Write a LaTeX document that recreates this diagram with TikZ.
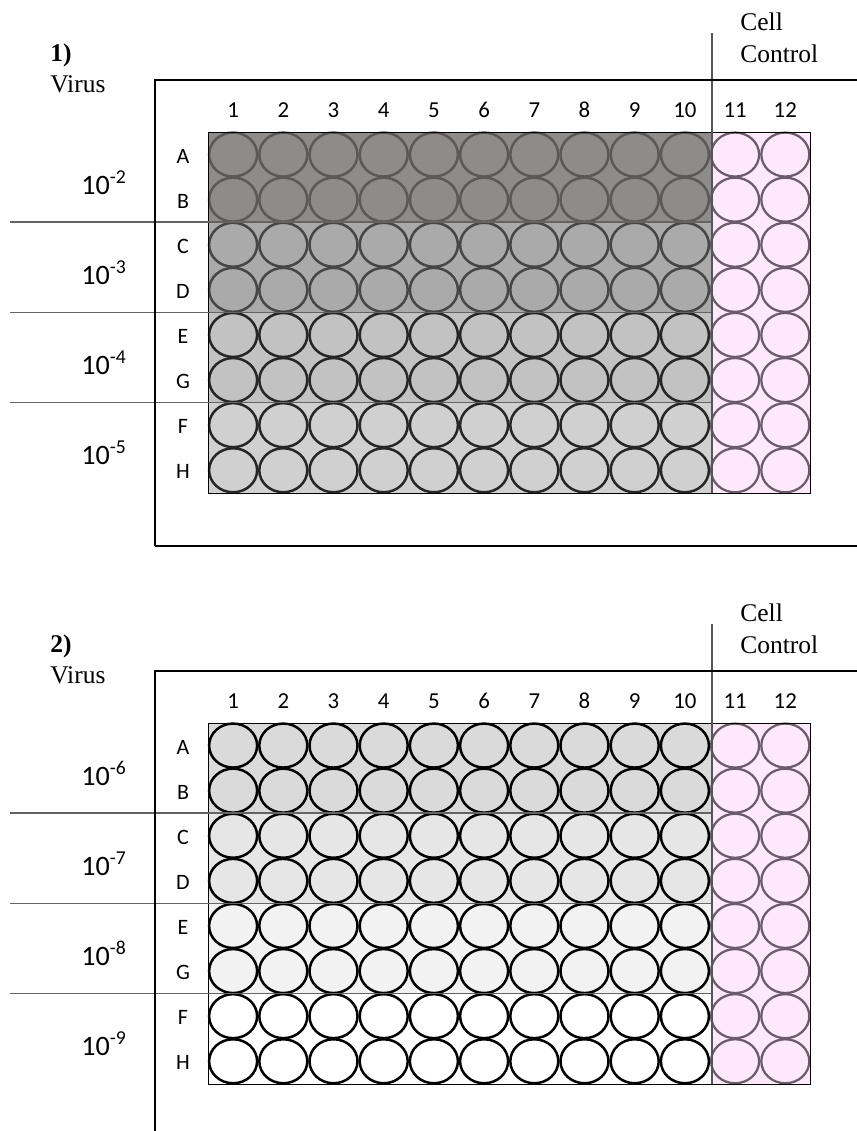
\documentclass[tikz,border=0pt]{standalone}
\usepackage{fontspec}
\setmainfont{Liberation Serif}
\newfontfamily\wellfont{Carlito}
\usetikzlibrary{positioning}
\definecolor{virusA}{RGB}{142, 139, 139}
\definecolor{virusB}{RGB}{170, 170, 170}
\definecolor{virusC}{RGB}{195, 194, 194}
\definecolor{virusD}{RGB}{208, 208, 208}
\definecolor{virusE}{RGB}{218, 218, 218}
\definecolor{virusF}{RGB}{230, 230, 230}
\definecolor{virusG}{RGB}{242, 242, 242}
\definecolor{edgeA}{RGB}{92, 88, 88}
\definecolor{edgeB}{RGB}{70, 70, 70}
\definecolor{cellfill}{RGB}{253, 233, 251}
\definecolor{celledge}{RGB}{107, 92, 107}
\tikzstyle{frameline}=[line width=0.3mm]
\tikzstyle{splitline}=[draw={rgb,255:red,100;green,100;blue,100},line width=0.3mm]
\tikzstyle{ctrlline}=[draw={rgb,255:red,85;green,85;blue,85},line width=0.3mm]
\tikzstyle{well}=[line width=0.5mm]
\tikzstyle{cellwell}=[draw=celledge,fill=cellfill,line width=0.45mm]
\tikzstyle{colnum}=[font=\wellfont\fontsize{13}{15}\selectfont,anchor=base,inner sep=0pt]
\tikzstyle{rowletter}=[font=\wellfont\fontsize{12.5}{15}\selectfont,anchor=base,inner sep=0pt]
\tikzstyle{dillabel}=[font=\wellfont\fontsize{16}{18}\selectfont,anchor=base west,inner sep=0pt]
\tikzstyle{serifbig}=[font=\fontsize{14.5}{17}\selectfont,anchor=base west,inner sep=0pt]

% one plate with its labels; #1 tag, #2 panel number, #3 bands, #4 lower end of left frame line
\newcommand{\virusplate}[4]{
\foreach \fillc/\edgec/\expo/\ra/\rb [count=\k from 0] in {#3} {
  \pgfmathsetmacro\ytop{132+2*\k*45.1}
  \fill[\fillc] (208,\ytop) rectangle (712,{\ytop+90.2});
  \foreach \c in {1,...,10}
    \foreach \j in {0,1}
      \draw[well,draw=\edgec,fill=\fillc] ({208+(\c-0.5)*50.2},{\ytop+(\j+0.5)*45.1}) ellipse [x radius=24,y radius=22];
  \node[rowletter] (#1row\ra) at (183,{\ytop+22.55+8.5}) {\ra};
  \node[rowletter] (#1row\rb) at (183,{\ytop+67.65+8.5}) {\rb};
  \node[dillabel] (#1dil\k) at (81,{\ytop+45.1+17}) {10\textsuperscript{-\expo}};
}
\fill[cellfill] (712,132) rectangle (810,493);
\foreach \c in {11,12}
  \foreach \r in {1,...,8}
    \draw[cellwell] ({208+(\c-0.5)*50.2},{132+(\r-0.5)*45.1}) ellipse [x radius=24,y radius=22];
\draw[line width=0.2mm] (208,132) rectangle (810,493);
\foreach \c in {1,...,12}
  \node[colnum] (#1col\c) at ({208+(\c-0.5)*50.2},117) {\c};
\draw[splitline] (10,222.2) -- (712,222.2);
\draw[splitline] (10,312.4) -- (712,312.4);
\draw[splitline] (10,402.6) -- (712,402.6);
\draw[ctrlline] (712,33) -- (712,493);
\draw[frameline] (155,#4) -- (155,80) -- (857,80);
\node[serifbig,font=\bfseries\fontsize{14.5}{17}\selectfont] (#1num) at (50,61) {#2)};
\node[serifbig] (#1virus) at (50,92) {Virus};
\node[serifbig] (#1cell) at (740,30) {Cell};
\node[serifbig] (#1control) at (740,62) {Control};
}

\begin{document}
\begin{tikzpicture}[x=0.2mm,y=-0.2mm]
\useasboundingbox (0,0) rectangle (857,1131);

% first plate
\virusplate{p}{1}{virusA/edgeA/2/A/B, virusB/edgeB/3/C/D, virusC/black!85/4/E/G, virusD/black!85/5/F/H}{546}
\draw[frameline] (155,546) -- (857,546);

% second plate
\begin{scope}[shift={(0,591)}]
\virusplate{q}{2}{virusE/black/6/A/B, virusF/black/7/C/D, virusG/black/8/E/G, white/black/9/F/H}{540}
\end{scope}

\end{tikzpicture}
\end{document}
